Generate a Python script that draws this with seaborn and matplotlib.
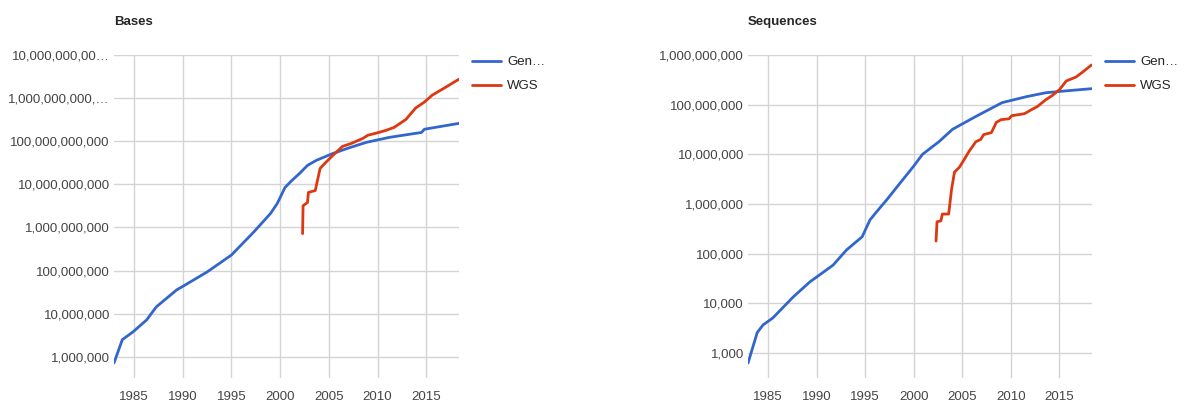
import matplotlib
matplotlib.use("Agg")
import matplotlib.pyplot as plt
import seaborn as sns
import pandas as pd

sns.set_style("white")
plt.rcParams['font.family'] = ['Liberation Sans', 'DejaVu Sans']

# Bases panel
bases_gb_year = [1982.95, 1983.8, 1984.9, 1986.3, 1987.3, 1989.4, 1990.0, 1992.5, 1995.0,
                 1997.3, 1999.0, 1999.7, 2000.5, 2001.2, 2002.0, 2002.8, 2003.7, 2005.4,
                 2007.2, 2008.9, 2011.2, 2014.5, 2014.8, 2018.35]
bases_gb = [7.2e5, 2.5e6, 3.8e6, 7.2e6, 1.45e7, 3.6e7, 4.3e7, 9.3e7, 2.3e8,
            7.9e8, 2.1e9, 3.6e9, 8.5e9, 1.23e10, 1.8e10, 2.75e10, 3.6e10, 5.2e10,
            7.2e10, 9.5e10, 1.23e11, 1.6e11, 1.9e11, 2.6e11]
bases_wgs_year = [2002.3, 2002.35, 2002.8, 2002.9, 2003.6, 2004.1, 2004.6, 2005.4, 2006.4,
                  2007.3, 2008.5, 2009.0, 2009.9, 2010.9, 2011.7, 2012.9, 2013.9, 2014.8,
                  2015.6, 2017.0, 2018.35]
bases_wgs = [7.2e8, 3.2e9, 3.8e9, 6.5e9, 7.2e9, 2.35e10, 3.1e10, 4.7e10, 7.6e10,
             8.9e10, 1.17e11, 1.38e11, 1.55e11, 1.8e11, 2.1e11, 3.2e11, 5.9e11, 8.1e11,
             1.17e12, 1.8e12, 2.75e12]

# Sequences panel
seq_gb_year = [1982.95, 1983.9, 1984.5, 1985.5, 1987.6, 1989.3, 1991.7, 1993.1, 1994.7,
               1995.5, 1996.5, 1997.2, 1998.5, 2000.0, 2000.9, 2002.6, 2004.0, 2006.4,
               2009.1, 2011.6, 2013.6, 2015.7, 2018.3]
seq_gb = [630, 2600, 3700, 5100, 1.35e4, 2.7e4, 5.9e4, 1.2e5, 2.2e5,
          4.8e5, 8.3e5, 1.2e6, 2.5e6, 5.8e6, 1.0e7, 1.8e7, 3.2e7, 5.8e7,
          1.1e8, 1.45e8, 1.74e8, 1.9e8, 2.1e8]
seq_wgs_year = [2002.3, 2002.4, 2002.8, 2002.95, 2003.6, 2003.9, 2004.2, 2004.7, 2005.2,
                2005.7, 2006.4, 2006.9, 2007.2, 2008.0, 2008.5, 2009.0, 2009.8, 2010.1,
                2011.4, 2012.1, 2012.7, 2013.6, 2014.2, 2015.0, 2015.7, 2016.7, 2017.3, 2018.3]
seq_wgs = [1.8e5, 4.4e5, 4.6e5, 6.3e5, 6.3e5, 2.0e6, 4.4e6, 5.5e6, 7.9e6,
           1.15e7, 1.8e7, 2.0e7, 2.5e7, 2.75e7, 4.4e7, 5.0e7, 5.2e7, 6.0e7,
           6.6e7, 7.9e7, 9.1e7, 1.26e8, 1.5e8, 2.0e8, 3.0e8, 3.6e8, 4.4e8, 6.3e8]

series_names = ["Gen…", "WGS"]
x_ticks = [1985, 1990, 1995, 2000, 2005, 2010, 2015]
bases_ticks = [1e6, 1e7, 1e8, 1e9, 1e10, 1e11, 1e12, 1e13]
bases_ticklabels = ["1,000,000", "10,000,000", "100,000,000", "1,000,000,000",
                    "10,000,000,000", "100,000,000,000", "1,000,000,000,…", "10,000,000,00…"]
seq_ticks = [1e3, 1e4, 1e5, 1e6, 1e7, 1e8, 1e9]
seq_ticklabels = ["1,000", "10,000", "100,000", "1,000,000", "10,000,000",
                  "100,000,000", "1,000,000,000"]

palette = {"Gen…": "#3366cc", "WGS": "#dc3912"}
W, H = 1178, 404


def frame(gb_x, gb_y, wgs_x, wgs_y):
    return pd.concat([
        pd.DataFrame({"year": gb_x, "value": gb_y, "series": series_names[0]}),
        pd.DataFrame({"year": wgs_x, "value": wgs_y, "series": series_names[1]}),
    ])


def panel(fig, left, right, df, title, ylim, ticks, ticklabels):
    ax = fig.add_axes([left / W, 1 - 378 / H, (right - left) / W, (378 - 55) / H])
    sns.lineplot(data=df, x="year", y="value", hue="series", palette=palette,
                 sort=False, estimator=None, linewidth=2.0, ax=ax)
    ax.set_yscale("log")
    ax.set_xlim(1982.95, 2018.35)
    ax.set_ylim(*ylim)
    ax.set_yticks(ticks)
    ax.set_yticklabels(ticklabels)
    ax.minorticks_off()
    ax.set_xticks(x_ticks)
    ax.set_xticklabels([str(t) for t in x_ticks])
    ax.grid(True, color="#d4d4d4", linewidth=1)
    ax.set_axisbelow(True)
    for s in ax.spines.values():
        s.set_visible(False)
    ax.tick_params(length=0, labelsize=9.5, labelcolor="#444444")
    ax.tick_params(axis="y", pad=3)
    ax.tick_params(axis="x", pad=9)
    ax.set_xlabel("")
    ax.set_ylabel("")
    fig.text(left / W, 1 - 22 / H, title, fontsize=9.5, fontweight="bold",
             ha="left", va="center")
    handles, labels = ax.get_legend_handles_labels()
    ax.legend(handles, labels, loc="upper left",
              bbox_to_anchor=((right + 13) / W, 1 - 56 / H),
              bbox_transform=fig.transFigure, frameon=False, fontsize=9.5,
              handlelength=2.2, handletextpad=0.45, labelspacing=0.9,
              borderpad=0, borderaxespad=0, labelcolor="#222222")
    return ax


fig = plt.figure(figsize=(W / 100, H / 100), dpi=100)
panel(fig, 114, 459, frame(bases_gb_year, bases_gb, bases_wgs_year, bases_wgs),
      "Bases", (10 ** 5.51, 1e13), bases_ticks, bases_ticklabels)
panel(fig, 748, 1092, frame(seq_gb_year, seq_gb, seq_wgs_year, seq_wgs),
      "Sequences", (10 ** 2.5, 1e9), seq_ticks, seq_ticklabels)

fig.savefig("out.png", dpi=100)
